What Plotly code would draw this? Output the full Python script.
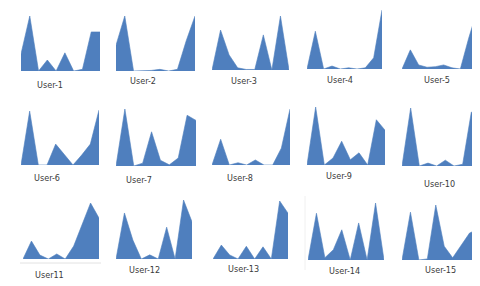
import plotly.graph_objects as go

points = list(range(1, 11))
users = ["User-1", "User-2", "User-3", "User-4", "User-5",
         "User-6", "User-7", "User-8", "User-9", "User-10",
         "User11", "User-12", "User-13", "User-14", "User-15"]

user1 = [0.31, 1.0, 0, 0.20, 0, 0.33, 0, 0.03, 0.71, 0.71]
user2 = [0.47, 1.0, 0, 0, 0.01, 0.03, 0, 0.03, 0.55, 1.0]
user3 = [0, 0.74, 0.28, 0.04, 0.01, 0.01, 0.65, 0, 1.0, 0]
user4 = [0, 0.64, 0, 0.05, 0, 0.02, 0, 0.02, 0.19, 1.0]
user5 = [0, 0.33, 0.07, 0.03, 0.04, 0.07, 0.02, 0, 0.53, 1.0]
user6 = [0, 0.98, 0, 0, 0.38, 0.20, 0, 0.18, 0.38, 1.0]
user7 = [0, 1.0, 0, 0.05, 0.60, 0.10, 0.02, 0.14, 0.89, 0.80]
user8 = [0, 0.46, 0, 0.04, 0, 0.09, 0, 0, 0.30, 1.0]
user9 = [0, 1.0, 0, 0.12, 0.41, 0.09, 0.21, 0, 0.78, 0.60]
user10 = [0, 1.0, 0, 0.05, 0, 0.10, 0, 0.03, 0.93, 0.84]
user11 = [0, 0.32, 0.07, 0, 0.09, 0, 0.23, 0.61, 1.0, 0.73]
user12 = [0, 0.78, 0.32, 0, 0.07, 0, 0.54, 0, 1.0, 0.63]
user13 = [0, 0.24, 0.07, 0, 0.22, 0, 0.21, 0, 1.0, 0.79]
user14 = [0, 0.82, 0.04, 0.18, 0.53, 0, 0.65, 0, 1.0, 0]
user15 = [0, 0.87, 0, 0.02, 1.0, 0.25, 0.04, 0.27, 0.49, 0.56]

series = [user1, user2, user3, user4, user5, user6, user7, user8, user9, user10,
          user11, user12, user13, user14, user15]

W, H = 480, 286
# panel geometry in pixels: left, right, baseline, top
panels = [
    (13, 92, 63, 8), (108, 187, 63, 8), (204, 281, 62, 8), (299, 374, 61, 2), (394, 469, 61, 3),
    (13, 91, 157, 102), (108, 188, 158, 101), (204, 282, 157, 101), (299, 377, 157, 99), (394, 472, 158, 100),
    (15, 91, 251, 195), (108, 184, 251, 192), (205, 280, 251, 193), (300, 376, 252, 195), (394, 470, 252, 197),
]
label_pos = [
    (28, 77), (121, 73), (222, 73), (318, 72), (415, 72),
    (25, 170), (117, 172), (218, 170), (317, 168), (415, 176),
    (26, 267), (120, 262), (219, 261), (320, 263), (416, 262),
]

fill = "#4f7fbe"
fig = go.Figure()
layout = dict(width=W, height=H, margin=dict(l=0, r=0, t=0, b=0),
              paper_bgcolor="white", plot_bgcolor="rgba(0,0,0,0)", showlegend=False)
annotations = []
for i, (name, vals, (l, r, b, t), (lx, ly)) in enumerate(zip(users, series, panels, label_pos)):
    k = "" if i == 0 else str(i + 1)
    fig.add_trace(go.Scatter(x=points, y=vals, mode="lines", fill="tozeroy",
                             fillcolor=fill, line=dict(color=fill, width=0.6),
                             xaxis="x" + k, yaxis="y" + k, hoverinfo="skip"))
    layout["xaxis" + k] = dict(domain=[l / W, r / W], range=[1, 10], visible=False,
                               anchor="y" + k, fixedrange=True)
    layout["yaxis" + k] = dict(domain=[1 - b / H, 1 - t / H], range=[0, 1], visible=False,
                               anchor="x" + k, fixedrange=True)
    annotations.append(dict(x=lx / W, y=1 - ly / H, xref="paper", yref="paper",
                            text=name, showarrow=False, xanchor="left", yanchor="middle",
                            borderpad=0,
                            font=dict(family="DejaVu Sans Condensed, Liberation Sans Narrow, Lato, sans-serif",
                                      size=9, color="#3a3a3a")))
layout["annotations"] = annotations
layout["shapes"] = [
    dict(type="line", xref="paper", yref="paper",
         x0=12 / W, x1=93 / W, y0=1 - 255 / H, y1=1 - 255 / H,
         line=dict(color="#e2e2e2", width=1)),
    dict(type="line", xref="paper", yref="paper",
         x0=297 / W, x1=297 / W, y0=1 - 188 / H, y1=1 - 262 / H,
         line=dict(color="#f0f0f0", width=1)),
]
fig.update_layout(**layout)
fig.write_html("out.html")
